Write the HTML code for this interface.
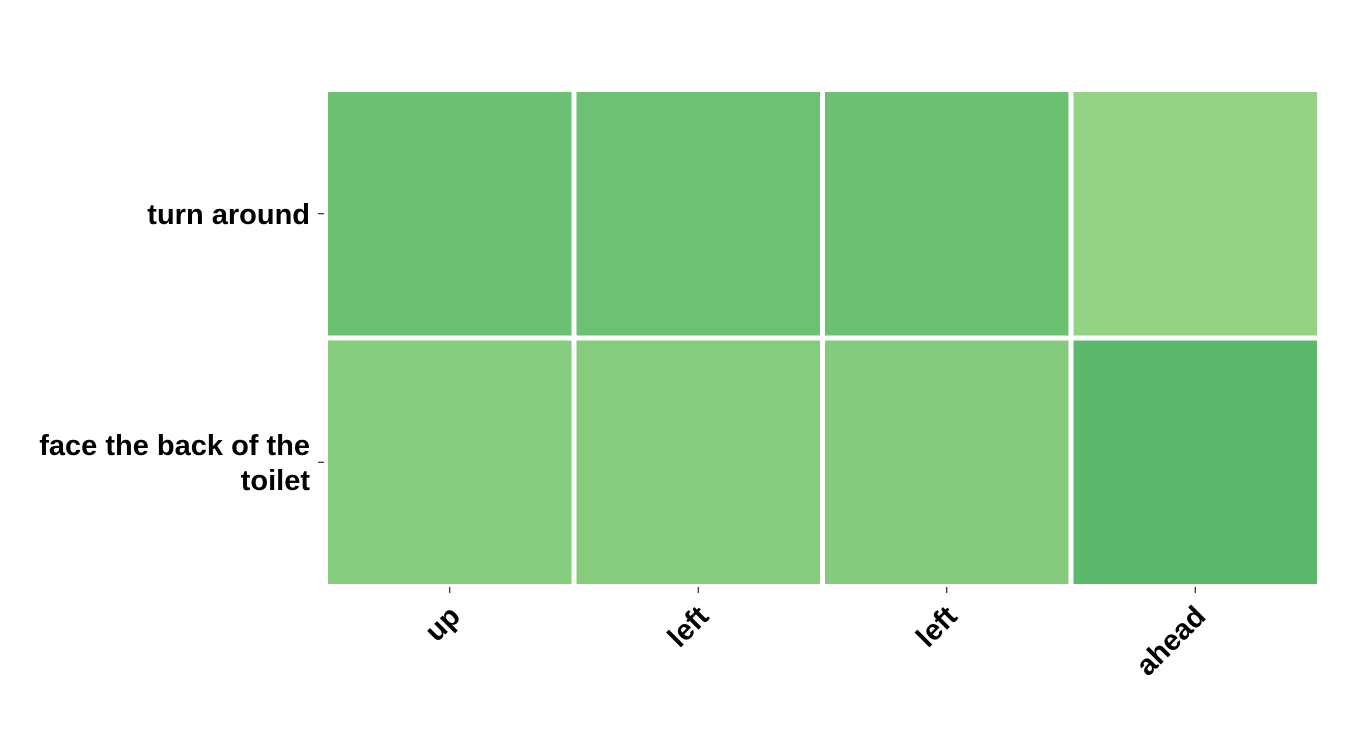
<!DOCTYPE html>
<html><head><meta charset="utf-8"><style>body{margin:0;background:#fff}svg{display:block}text{font-family:"Liberation Sans",sans-serif;font-weight:bold;font-size:29px;fill:#000}</style></head>
<body>
<svg id="chart" width="1350" height="750" viewBox="0 0 1350 750">
<g id="cells"></g><g id="axes"></g>
</svg>
<script>
const xLabels=["up","left","left","ahead"];
const yLabels=["turn around","face the back of the|toilet"];
const row0=[0.55,0.53,0.54,0.125];
const row1=[0.27,0.29,0.30,0.72];
const values=[row0,row1];
const ns="http://www.w3.org/2000/svg";
const X0=325.5,W=248.5,Y0=89.5,H=248.5;
const xs=i=>X0+i*W, ys=j=>Y0+j*H;
function color(v){const a=[161,217,138],b=[65,171,93];const t=v;return "rgb("+a.map((c,k)=>Math.round(c+(b[k]-c)*t)).join(",")+")";}
const cg=document.getElementById('cells'),ag=document.getElementById('axes');
values.forEach((row,j)=>row.forEach((v,i)=>{const r=document.createElementNS(ns,'rect');


r.setAttribute('x',xs(i)+2.5);r.setAttribute('y',ys(j)+2.5);r.setAttribute('width',W-5);r.setAttribute('height',H-5);r.setAttribute('fill',color(v));cg.appendChild(r);}));
xLabels.forEach((l,i)=>{const cx=xs(i)+W/2;const t=document.createElementNS(ns,'line');


t.setAttribute('x1',cx);t.setAttribute('x2',cx);t.setAttribute('y1',587);t.setAttribute('y2',593);t.setAttribute('stroke','#000');ag.appendChild(t);
const tx=document.createElementNS(ns,'text');


tx.setAttribute('text-anchor','end');tx.setAttribute('transform','translate('+(cx+12)+',618) rotate(-45)');tx.textContent=l;ag.appendChild(tx);});
yLabels.forEach((l,j)=>{const cy=ys(j)+H/2;const t=document.createElementNS(ns,'line');


t.setAttribute('x1',318);t.setAttribute('x2',324);t.setAttribute('y1',cy);t.setAttribute('y2',cy);t.setAttribute('stroke','#000');ag.appendChild(t);
const parts=l.split('|');const tx=document.createElementNS(ns,'text');


tx.setAttribute('text-anchor','end');
parts.forEach((p,k)=>{const s=document.createElementNS(ns,'tspan');s.setAttribute('x',310);s.setAttribute('y',cy+10+(k-(parts.length-1)/2)*35);s.textContent=p;tx.appendChild(s);});
ag.appendChild(tx);});
</script>
</body></html>
